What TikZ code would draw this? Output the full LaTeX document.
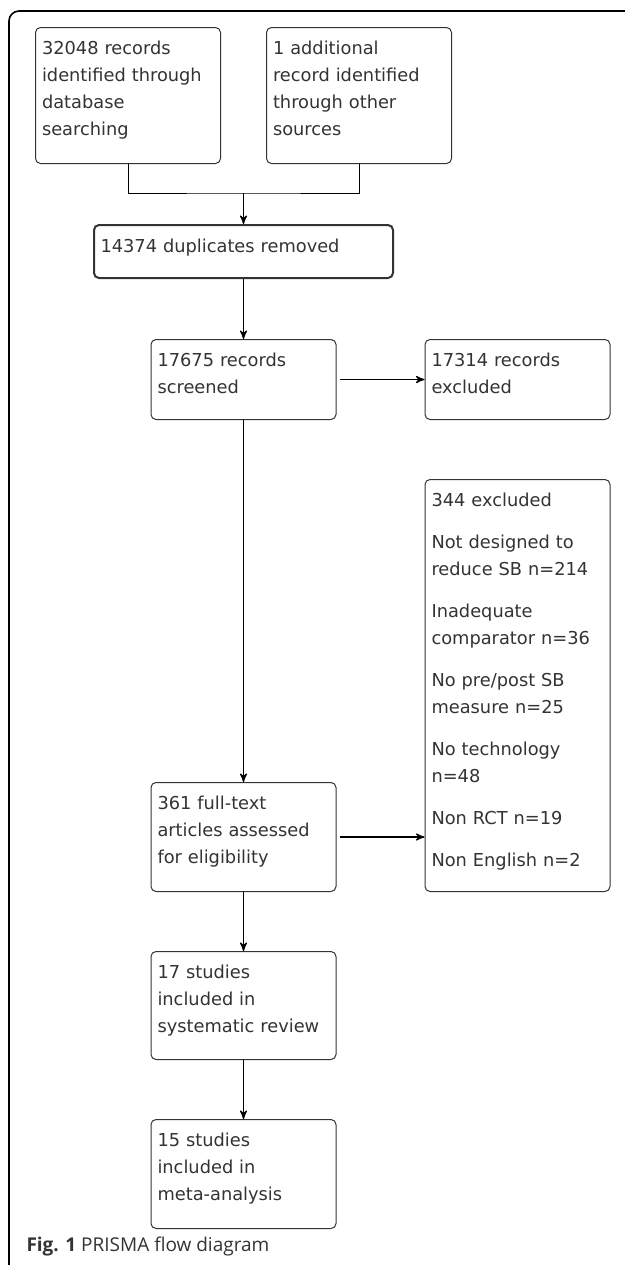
\documentclass[tikz,border=0pt]{standalone}
\usepackage{fontspec}
\newfontfamily\boxfont{DejaVu Sans}
\newfontfamily\capfont{Open Sans}
\usetikzlibrary{positioning, arrows, calc}
\tikzset{
>=stealth', % small filled arrow heads
box/.style={draw=black!80, rounded corners=2.5pt, text=black!80, align=left, text width=86pt, inner xsep=3.25pt, inner ysep=3pt, text height=10.5pt, font=\boxfont\fontsize{8.9}{13.5}\selectfont}, % text sits at the top of each box
link/.style={->, line width=0.6pt}, % arrows between boxes
}

\begin{document}
\begin{tikzpicture}[line width=0.5pt]
\useasboundingbox (0,0) rectangle (312.5pt,-632.5pt);
\draw[line width=0.8pt, rounded corners=5pt] (312.5pt,-5.5pt) -| (4.5pt,-632.5pt);

\node[box, anchor=north west, text depth=51.5pt] (dbase) at (17.5pt,-13.5pt) {32048 records\\identified through\\database\\searching};
\node[box, right=22.5pt of dbase, text depth=51.5pt] (other) {1 additional\\record identified\\through other\\sources};
\coordinate (join) at ($(dbase.south)!.5!(other.south)+(0,-14.5pt)$);
\node[box, below=15.5pt of join, text width=143pt, text depth=10pt, line width=1pt] (dupl) {14374 duplicates removed};
\node[box, below=30pt of dupl, text depth=23.5pt] (screen) {17675 records\\screened};
\node[box, right=44pt of screen, text depth=23.5pt] (excl1) {17314 records\\excluded};
\node[box, below=181pt of screen, text depth=38pt] (full) {361 full-text\\articles assessed\\for eligibility};
\node[box, below=29.5pt of excl1, text depth=189.5pt] (excl2) {344 excluded\\[7.5pt]
  Not designed to\\reduce SB n=214\\[7.5pt]
  Inadequate\\comparator n=36\\[7.5pt]
  No pre/post SB\\measure n=25\\[7.5pt]
  No technology\\n=48\\[7.5pt]
  Non RCT n=19\\[7.5pt]
  Non English n=2};
\node[box, below=29.5pt of full, text depth=37.5pt] (incl) {17 studies\\included in\\systematic review};
\node[box, below=29.5pt of incl, text depth=38pt] (meta) {15 studies\\included in\\meta-analysis};

\draw (dbase.south) |- (join) -| (other.south);
\draw[link] (join) -- (dupl);
\draw[link] (dupl) -- (screen);
\draw[link] ([xshift=1.5pt]screen.east) -- (excl1);
\draw[link] (screen) -- (full);
\draw[link] ([xshift=1.5pt]full.east) -- (full.east -| excl2.west);
\draw[link] (full) -- (incl);
\draw[link] (incl) -- (meta);

\node[anchor=base west, inner sep=0pt, text=black!80, font=\capfont\fontsize{9.5}{11}\selectfont] (caption) at (13pt,-625.5pt) {\textbf{Fig. 1} PRISMA flow diagram};
\end{tikzpicture}
\end{document}
